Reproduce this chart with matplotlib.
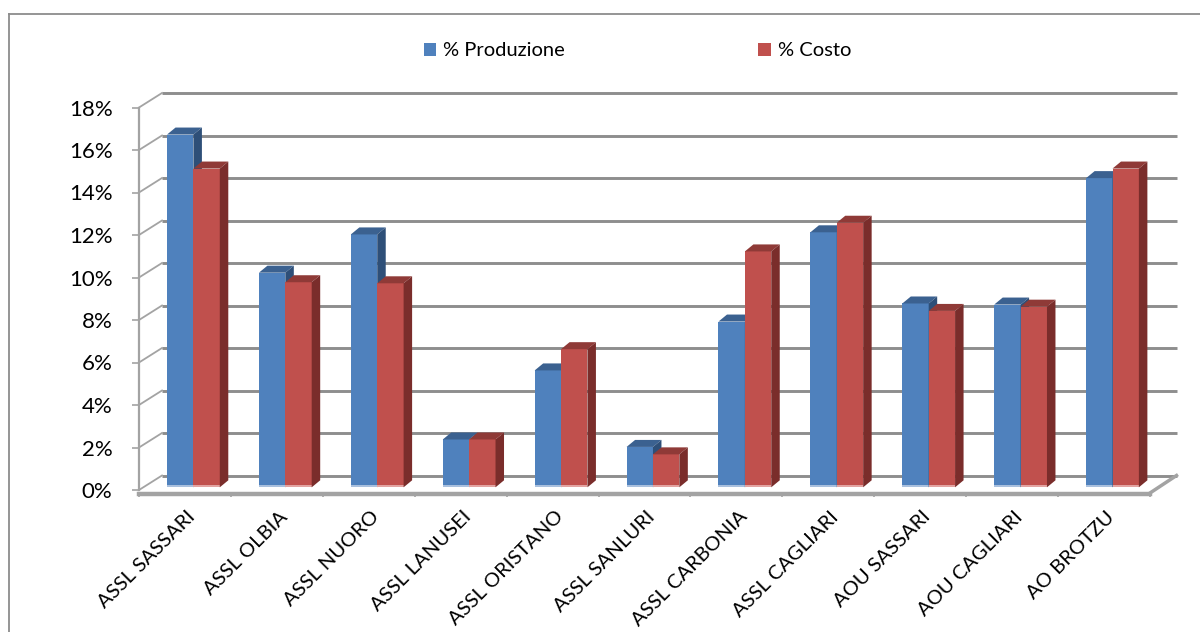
import matplotlib
matplotlib.use("Agg")
import matplotlib.pyplot as plt
from matplotlib.patches import Polygon, Patch
from matplotlib.lines import Line2D

plt.rcParams['font.family'] = ['Lato', 'DejaVu Sans']

# --- data ---------------------------------------------------------------
categories = ["ASSL SASSARI", "ASSL OLBIA", "ASSL NUORO", "ASSL LANUSEI",
              "ASSL ORISTANO", "ASSL SANLURI", "ASSL CARBONIA", "ASSL CAGLIARI",
              "AOU SASSARI", "AOU CAGLIARI", "AO BROTZU"]
produzione = [16.6, 10.1, 11.9, 2.25, 5.5, 1.9, 7.8, 12.0, 8.65, 8.6, 14.55]
costo = [15.0, 9.65, 9.6, 2.25, 6.5, 1.55, 11.1, 12.45, 8.3, 8.5, 15.0]
series_names = ["% Produzione", "% Costo"]
y_ticks = [0, 2, 4, 6, 8, 10, 12, 14, 16, 18]
y_labels = [f"{t}%" for t in y_ticks]

# --- styling ------------------------------------------------------------
front = ["#4f81bd", "#c0504d"]
tops = ["#3b6190", "#8f3a37"]
sides = ["#2e4f78", "#7a2d2b"]
bases = ["#a9c0de", "#e2a4a2"]
grid_col = "#8e8e8e"
axis_col = "#a3a3a3"

W, H, DPI = 1200, 632, 100
fig = plt.figure(figsize=(W / DPI, H / DPI), dpi=DPI)

# front plane of the 3-D box (pixel geometry of the plot area)
left_px, right_px = 139, 1150
zero_px, top_px = 490, 107.5
ax = fig.add_axes([left_px / W, (H - zero_px) / H,
                   (right_px - left_px) / W, (zero_px - top_px) / H])
n = len(categories)
ax.set_xlim(0, n)
ax.set_ylim(0, 18)
ax.patch.set_visible(False)

PX = (right_px - left_px) / n        # pixels per category
PY = (zero_px - top_px) / 18         # pixels per percent


def ddx(p):
    return p / PX


def ddy(p):
    return p / PY


# back wall: gridlines, pushed back in depth
wall_dx_l, wall_dx_r, wall_dy = 23, 26.5, 14.5
for v in y_ticks:
    ax.plot([ddx(wall_dx_l), n + ddx(wall_dx_r)], [v + ddy(wall_dy)] * 2,
            color=grid_col, lw=2.1, solid_capstyle='butt', clip_on=False, zorder=1)
    # side-wall depth lines
    ax.plot([0, ddx(wall_dx_l)], [v, v + ddy(wall_dy)],
            color=axis_col, lw=1.3, clip_on=False, zorder=1)
# floor right edge
ax.plot([n, n + ddx(wall_dx_r)], [ddy(-3), ddy(wall_dy)],
        color=axis_col, lw=2.5, clip_on=False, zorder=1)

# bars
bar_w = 0.287
bar_x0 = [0.305, 0.305 + bar_w]
base = ddy(2.7)
depth_x, depth_y = ddx(8.5), ddy(7)
for s, vals in enumerate([produzione, costo]):
    for i, v in enumerate(vals):
        x0 = i + bar_x0[s]
        x1 = x0 + bar_w
        y1 = base + v
        z = 3 + i * 2 + s
        ax.bar(x0, v, width=bar_w, bottom=base, align='edge',
               color=front[s], linewidth=0, zorder=z)
        ax.bar(x0, ddy(2.4), width=bar_w, bottom=base, align='edge',
               color=bases[s], linewidth=0, zorder=z)
        ax.add_patch(Polygon([(x0, y1), (x1, y1), (x1 + depth_x, y1 + depth_y),
                              (x0 + depth_x, y1 + depth_y)],
                             closed=True, facecolor=tops[s], edgecolor='none',
                             zorder=z, clip_on=False))
        ax.add_patch(Polygon([(x1, base), (x1, y1), (x1 + depth_x, y1 + depth_y),
                              (x1 + depth_x, base + depth_y)],
                             closed=True, facecolor=sides[s], edgecolor='none',
                             zorder=z, clip_on=False))

# axes
for sp in ['top', 'right']:
    ax.spines[sp].set_visible(False)
ax.spines['left'].set_color(axis_col)
ax.spines['left'].set_linewidth(1.6)
ax.spines['bottom'].set_color(axis_col)
ax.spines['bottom'].set_linewidth(3.2)
ax.spines['bottom'].set_position(('outward', 3))
ax.spines['bottom'].set_zorder(50)

ax.set_yticks(y_ticks)
ax.set_yticklabels(y_labels, fontsize=16)
ax.tick_params(axis='y', direction='out', length=5, width=1.2, color=axis_col,
               pad=14)

ax.set_xticks(range(n + 1))
ax.set_xticklabels([])
ax.tick_params(axis='x', which='major', direction='out', length=2.5, width=1.2,
               color=axis_col)
ax.set_xticks([i + 0.52 for i in range(n)], minor=True)
ax.set_xticklabels(categories, minor=True, fontsize=14.5, rotation=45,
                   ha='right', va='top', rotation_mode='anchor')
ax.tick_params(axis='x', which='minor', length=0, pad=10)

# legend
handles = [Patch(facecolor=front[0], edgecolor='none'),
           Patch(facecolor=front[1], edgecolor='none')]
fig.legend(handles, series_names, loc='center', bbox_to_anchor=(637.5 / W, 1 - 51 / H),
           ncol=2, frameon=False, fontsize=14.5, handlelength=0.62, handleheight=0.62,
           handletextpad=0.35, columnspacing=9.6)

# chart border
bx, by = 8.5 / W, 1 - 13.5 / H
fig.add_artist(Line2D([bx, bx], [0, by], color='#8c8c8c', lw=1.3))
fig.add_artist(Line2D([bx, 1], [by, by], color='#8c8c8c', lw=1.3))

fig.savefig("out.png", dpi=DPI, facecolor='white')
